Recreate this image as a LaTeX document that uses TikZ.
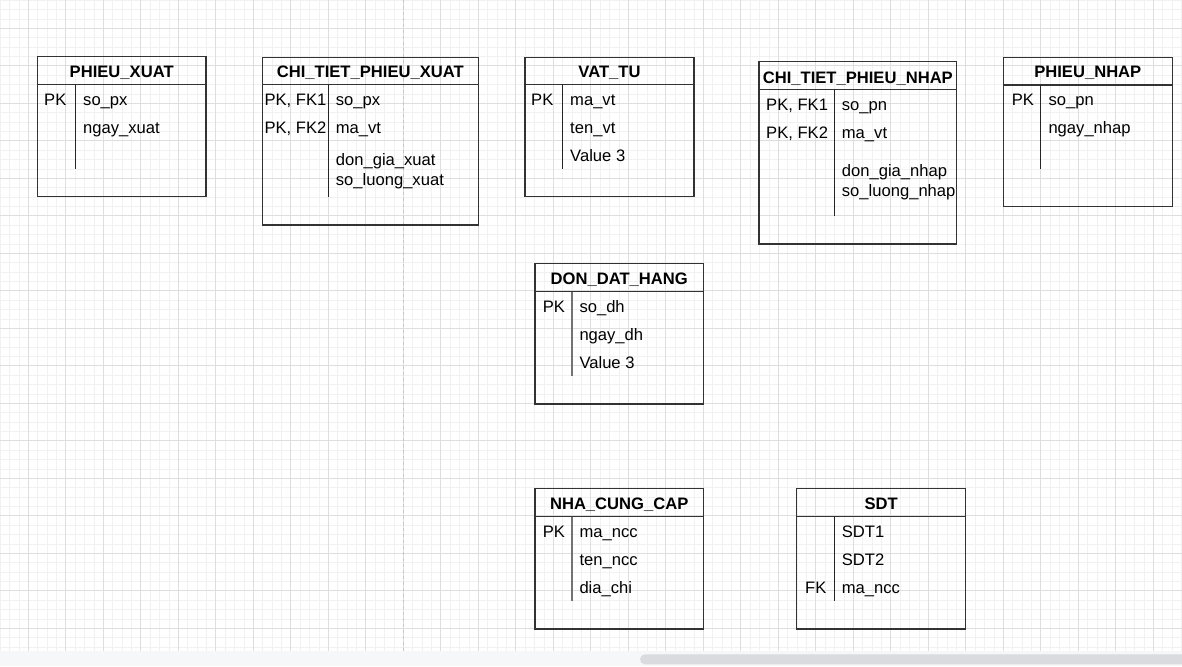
\documentclass[tikz,border=0pt]{standalone}
\usepackage{fontspec}
\setmainfont{Liberation Sans}
\definecolor{gridminor}{HTML}{F1F1F1}
\definecolor{gridmajor}{HTML}{DEDEDE}
\definecolor{pagebrk}{HTML}{C8C8C8}
\definecolor{scrollbg}{HTML}{F6F7F9}
\definecolor{scrollthumb}{HTML}{DADBDF}
\definecolor{edge}{HTML}{333333}
\begin{document}
\begin{tikzpicture}[x=1pt,y=-1pt,
  minorline/.style={draw=gridminor,line width=0.8pt},
  majorline/.style={draw=gridmajor,line width=0.8pt},
  tbl/.style={draw=edge,line width=1.2pt},
  hdr/.style={draw=edge,line width=1.2pt},
  divline/.style={draw=black!85,line width=1pt},
  graydiv/.style={draw=black!55,line width=1.6pt},
  fld/.style={anchor=base west,inner sep=0pt,font={\fontsize{16.6pt}{20pt}\selectfont}},
  ttl/.style={anchor=base,inner sep=0pt,font={\fontsize{16.6pt}{20pt}\selectfont\bfseries}}]
\useasboundingbox (0,0) rectangle (1182,666);
\fill[white] (0,0) rectangle (1182,666);
% grid
\foreach \i in {0,...,126} {\draw[minorline] ({0.175+9.375*\i},0) -- ({0.175+9.375*\i},651);}
\foreach \i in {0,...,69} {\draw[minorline] (0,{0.175+9.375*\i}) -- (1182,{0.175+9.375*\i});}
\foreach \i in {-1,...,31} {\draw[majorline] ({28.3+37.5*\i},0) -- ({28.3+37.5*\i},651);}
\foreach \i in {0,...,16} {\draw[majorline] (0,{28.3+37.5*\i}) -- (1182,{28.3+37.5*\i});}
% page break
\draw[pagebrk,line width=1.2pt,dash pattern=on 3pt off 3pt] (403.3,0) -- (403.3,651);
% scrollbar
\fill[scrollbg] (0,651) rectangle (1182,666);
\fill[scrollthumb,rounded corners=5pt] (640,654.3) rectangle (1195,664.3);

% PHIEU_XUAT
\draw[tbl] (37.3,56.7) rectangle (206,196.7);
\draw[hdr] (37.3,84.3) -- (206,84.3);
\draw[divline] (75,84.3) -- (75,168.5);
\node[ttl] (t1) at (121.7,77.5) {PHIEU\_XUAT};
\node[fld] (t1k1) at (44,105.3) {PK};
\node[fld] (t1f1) at (83,105.3) {so\_px};
\node[fld] (t1f2) at (83,133.3) {ngay\_xuat};

% CHI_TIET_PHIEU_XUAT
\draw[tbl] (262.3,57.3) rectangle (478.3,225);
\draw[hdr] (262.3,84.3) -- (478.3,84.3);
\draw[divline] (328.3,84.3) -- (328.3,197.3);
\node[ttl] (t2) at (370.3,77.5) {CHI\_TIET\_PHIEU\_XUAT};
\node[fld] (t2k1) at (264.3,105.3) {PK, FK1};
\node[fld] (t2k2) at (264.3,133.3) {PK, FK2};
\node[fld] (t2f1) at (335.7,105.3) {so\_px};
\node[fld] (t2f2) at (335.7,133.3) {ma\_vt};
\node[fld] (t2f3) at (335.7,165.3) {don\_gia\_xuat};
\node[fld] (t2f4) at (335.7,185.3) {so\_luong\_xuat};

% VAT_TU
\draw[tbl] (525,57.3) rectangle (694,196.7);
\draw[hdr] (525,84.3) -- (694,84.3);
\draw[divline] (562.7,84.3) -- (562.7,169.3);
\node[ttl] (t3) at (609.5,77.5) {VAT\_TU};
\node[fld] (t3k1) at (531,105.3) {PK};
\node[fld] (t3f1) at (570,105.3) {ma\_vt};
\node[fld] (t3f2) at (570,133.3) {ten\_vt};
\node[fld] (t3f3) at (570,161.3) {Value 3};

% CHI_TIET_PHIEU_NHAP
\draw[tbl] (759,61.7) rectangle (956.7,244);
\draw[hdr] (759,89.3) -- (956.7,89.3);
\draw[divline] (834.3,89.3) -- (834.3,216);
\node[ttl] (t4) at (857.8,83.2) {CHI\_TIET\_PHIEU\_NHAP};
\node[fld] (t4k1) at (766,110.3) {PK, FK1};
\node[fld] (t4k2) at (766,138.3) {PK, FK2};
\node[fld] (t4f1) at (841.7,110.3) {so\_pn};
\node[fld] (t4f2) at (841.7,138.3) {ma\_vt};
\node[fld] (t4f3) at (841.7,176.3) {don\_gia\_nhap};
\node[fld] (t4f4) at (841.7,196.3) {so\_luong\_nhap};

% PHIEU_NHAP
\draw[tbl] (1003.3,57.3) rectangle (1172.3,206.7);
\draw[hdr] (1003.3,85) -- (1172.3,85);
\draw[divline] (1040.7,85) -- (1040.7,169.3);
\node[ttl] (t5) at (1087.8,78) {PHIEU\_NHAP};
\node[fld] (t5k1) at (1011.7,105.3) {PK};
\node[fld] (t5f1) at (1048.3,105.3) {so\_pn};
\node[fld] (t5f2) at (1048.3,133.3) {ngay\_nhap};

% DON_DAT_HANG
\draw[tbl] (535,263.3) rectangle (703.3,404);
\draw[hdr] (535,291.7) -- (703.3,291.7);
\draw[graydiv] (571.7,291.7) -- (571.7,375.7);
\node[ttl] (t6) at (619.2,284.3) {DON\_DAT\_HANG};
\node[fld] (t6k1) at (542.7,312.2) {PK};
\node[fld] (t6f1) at (579.3,312.2) {so\_dh};
\node[fld] (t6f2) at (579.3,340.2) {ngay\_dh};
\node[fld] (t6f3) at (579.3,368.2) {Value 3};

% NHA_CUNG_CAP
\draw[tbl] (535,488.3) rectangle (703.3,629);
\draw[hdr] (535,516.7) -- (703.3,516.7);
\draw[graydiv] (571.7,516.7) -- (571.7,600.7);
\node[ttl] (t7) at (619.2,509.3) {NHA\_CUNG\_CAP};
\node[fld] (t7k1) at (542.7,537.2) {PK};
\node[fld] (t7f1) at (579.3,537.2) {ma\_ncc};
\node[fld] (t7f2) at (579.3,565.2) {ten\_ncc};
\node[fld] (t7f3) at (579.3,593.2) {dia\_chi};

% SDT
\draw[tbl] (796.7,488.3) rectangle (965.7,629);
\draw[hdr] (796.7,516.7) -- (965.7,516.7);
\draw[divline] (834.3,516.7) -- (834.3,600.7);
\node[ttl] (t8) at (881.2,509.3) {SDT};
\node[fld] (t8f1) at (841.7,537.2) {SDT1};
\node[fld] (t8f2) at (841.7,565.2) {SDT2};
\node[fld] (t8k3) at (805,593.2) {FK};
\node[fld] (t8f3) at (841.7,593.2) {ma\_ncc};
\end{tikzpicture}
\end{document}
